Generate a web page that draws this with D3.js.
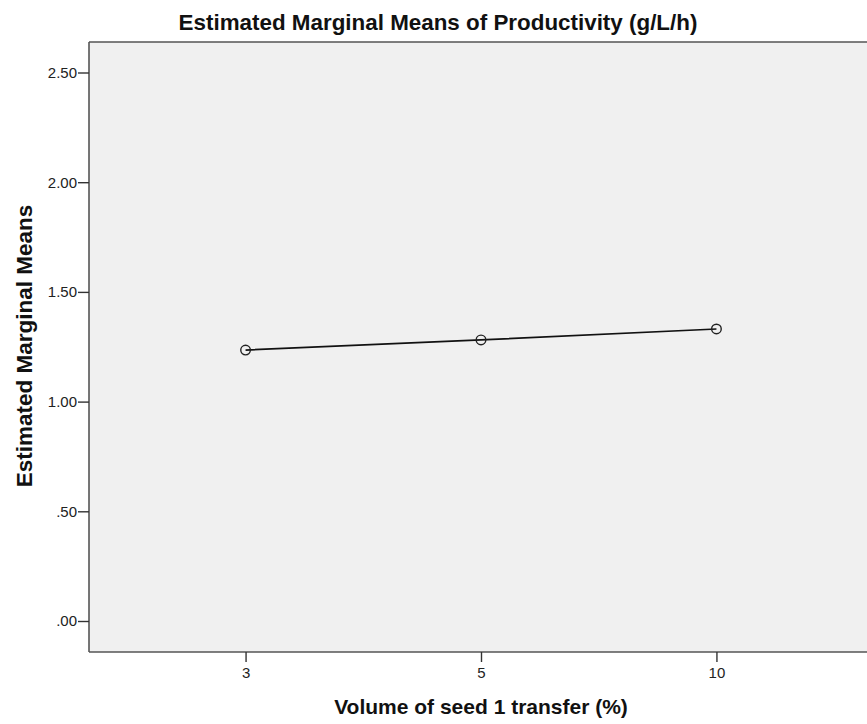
<!DOCTYPE html>
<html><head><meta charset="utf-8">
<script src="https://cdn.jsdelivr.net/npm/d3@7"></script>
<style>body{margin:0;background:#fff;}svg{display:block;font-family:"Liberation Sans",Arial,sans-serif;}</style>
</head><body>
<svg id="chart" width="867" height="724"></svg>
<script>
const categories = ["3", "5", "10"];
const means = [1.235, 1.281, 1.331];
const yTicks = [0, 0.5, 1.0, 1.5, 2.0, 2.5];
const yTickLabels = [".00", ".50", "1.00", "1.50", "2.00", "2.50"];
const title = "Estimated Marginal Means of Productivity (g/L/h)";
const xTitle = "Volume of seed 1 transfer (%)";
const yTitle = "Estimated Marginal Means";

const svg = d3.select("#chart");
const L = 89, T = 42, R = 873, B = 652;
const x = d3.scalePoint().domain(categories).range([L, R]).padding(0.665);
const y = d3.scaleLinear().domain([0, 2.5]).range([621, 72.5]);

svg.append("rect").attr("x", L).attr("y", T).attr("width", R - L).attr("height", B - T)
  .attr("fill", "#f0f0f0").attr("stroke", "none");

svg.append("line").attr("x1", L).attr("x2", R).attr("y1", T).attr("y2", T).attr("stroke", "#555").attr("stroke-width", 1.6);
svg.append("line").attr("x1", L).attr("x2", L).attr("y1", T).attr("y2", B).attr("stroke", "#555").attr("stroke-width", 1.6);
svg.append("line").attr("x1", L).attr("x2", R).attr("y1", B).attr("y2", B).attr("stroke", "#555").attr("stroke-width", 1.6);

const yAxis = d3.axisLeft(y).tickValues(yTicks).tickFormat((d, i) => yTickLabels[i]).tickSize(11).tickPadding(1);
const gy = svg.append("g").attr("transform", `translate(${L},0)`).call(yAxis);
gy.attr("font-size", 15).attr("font-family", "Liberation Sans, Arial, sans-serif");
gy.select(".domain").remove();
gy.selectAll(".tick line").attr("stroke", "#333").attr("stroke-width", 1.4);
gy.selectAll(".tick text").attr("font-size", 15).attr("fill", "#222");

const xAxis = d3.axisBottom(x).tickSize(10).tickPadding(5);
const gx = svg.append("g").attr("transform", `translate(0,${B})`).call(xAxis);
gx.attr("font-size", 15).attr("font-family", "Liberation Sans, Arial, sans-serif");
gx.select(".domain").remove();
gx.selectAll(".tick line").attr("stroke", "#333").attr("stroke-width", 1.4);
gx.selectAll(".tick text").attr("font-size", 15).attr("fill", "#222");

const pts = categories.map((c, i) => [x(c), y(means[i])]);
svg.append("path").attr("d", d3.line()(pts)).attr("fill", "none").attr("stroke", "#111").attr("stroke-width", 1.7);
svg.selectAll("circle.m").data(pts).enter().append("circle")
  .attr("cx", d => d[0]).attr("cy", d => d[1]).attr("r", 4.8)
  .attr("fill", "none").attr("stroke", "#222").attr("stroke-width", 1.4);

svg.append("text").attr("x", 438).attr("y", 30).attr("text-anchor", "middle")
  .attr("font-size", 22.4).attr("font-weight", "bold").attr("fill", "#111").text(title);
svg.append("text").attr("x", x("5")).attr("y", 714).attr("text-anchor", "middle")
  .attr("font-size", 21).attr("font-weight", "bold").attr("fill", "#111").text(xTitle);
svg.append("text").attr("transform", `translate(32,${(T + B) / 2 - 1}) rotate(-90)`).attr("text-anchor", "middle")
  .attr("font-size", 22.5).attr("font-weight", "bold").attr("fill", "#111").text(yTitle);
</script>
</body></html>
